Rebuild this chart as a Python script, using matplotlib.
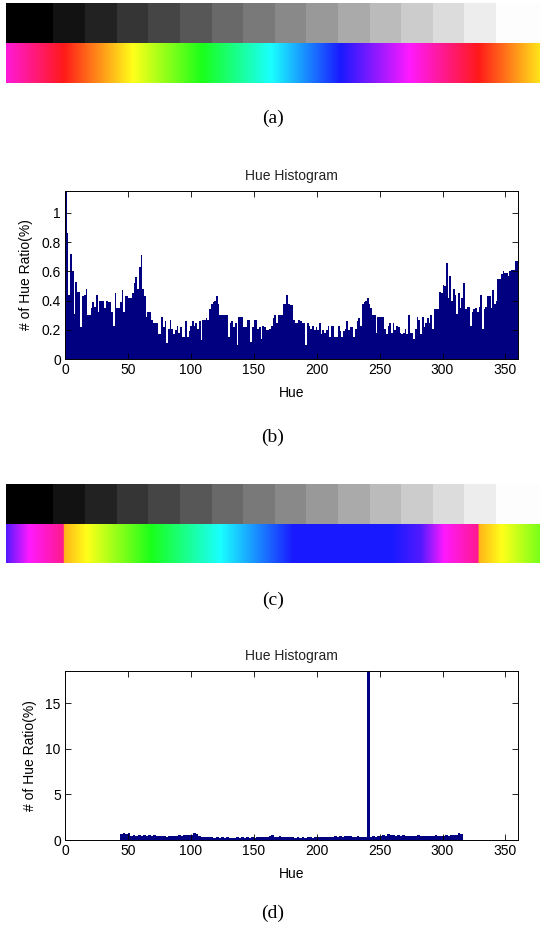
import numpy as np
import matplotlib
matplotlib.use("Agg")
import matplotlib.pyplot as plt
from matplotlib.colors import hsv_to_rgb

# ---------------- data ----------------
gray_levels = [0, 18, 34, 53, 69, 87, 105, 121, 137, 153, 170, 187, 204, 220, 237, 253]

# strip (a): hue runs continuously (degrees, wraps past 360)
strip_a_hue_start = 310
strip_a_hue_end = 773

# strip (c): hue remapping of the original hue (src -> dst)
remap_src = [0, 20, 76, 136, 199, 285, 310, 330, 360]
remap_dst = [40, 60, 120, 180, 240, 240, 255, 300, 330]

# histogram (b): hue ratio (%) over 0..360, equal bins
hist_b = [
    1.20, 0.86, 0.44, 0.72, 0.60, 0.31, 0.53, 0.46, 0.46, 0.22, 0.43, 0.44, 0.48, 0.30,
    0.30, 0.35, 0.39, 0.36, 0.44, 0.32, 0.40, 0.40, 0.40, 0.35, 0.40, 0.39, 0.39, 0.32,
    0.23, 0.45, 0.35, 0.35, 0.39, 0.47, 0.32, 0.43, 0.43, 0.42, 0.42,
    0.45, 0.52, 0.56, 0.48, 0.63, 0.71, 0.48, 0.43, 0.29, 0.32, 0.32, 0.27, 0.25, 0.25,
    0.25, 0.17, 0.17, 0.29, 0.22, 0.26, 0.11, 0.21, 0.27, 0.21, 0.17, 0.20, 0.23, 0.18,
    0.22, 0.15, 0.15, 0.26, 0.15, 0.19, 0.23, 0.26, 0.23, 0.25, 0.21, 0.26, 0.13, 0.27,
    0.27, 0.28, 0.27, 0.34, 0.38, 0.39, 0.40, 0.43, 0.38, 0.30,
    0.30, 0.30, 0.30, 0.30, 0.15, 0.25, 0.26, 0.22, 0.25, 0.10, 0.29, 0.29, 0.29, 0.22,
    0.22, 0.27, 0.27, 0.12, 0.22, 0.27, 0.27, 0.21, 0.22, 0.14, 0.23, 0.22, 0.20, 0.20,
    0.21, 0.23, 0.28, 0.30, 0.25, 0.30, 0.30, 0.30, 0.38, 0.38, 0.44, 0.38, 0.37, 0.37,
    0.27, 0.25, 0.25, 0.27, 0.26, 0.25, 0.25, 0.10, 0.25, 0.23, 0.21, 0.23, 0.20, 0.22,
    0.20, 0.25, 0.17, 0.20, 0.18, 0.20, 0.23, 0.15, 0.23, 0.23, 0.15, 0.15, 0.23, 0.19,
    0.15, 0.19, 0.21, 0.26, 0.20, 0.22, 0.22, 0.15, 0.21, 0.26, 0.28, 0.23,
    0.38, 0.39, 0.40, 0.42, 0.38, 0.35, 0.30, 0.30, 0.18, 0.29, 0.29, 0.29, 0.29, 0.21,
    0.17, 0.23, 0.25, 0.18, 0.25, 0.20, 0.23, 0.22, 0.18, 0.17, 0.18, 0.21, 0.17, 0.30,
    0.18, 0.18, 0.14, 0.21, 0.29, 0.27, 0.17, 0.29, 0.22, 0.25, 0.28, 0.25, 0.30, 0.21,
    0.34, 0.34, 0.34, 0.46, 0.45, 0.51, 0.50, 0.66, 0.42, 0.57, 0.40, 0.48, 0.44, 0.31,
    0.45, 0.35, 0.42, 0.52, 0.34, 0.36, 0.36, 0.23, 0.32, 0.34, 0.35, 0.32, 0.36, 0.44,
    0.21, 0.34, 0.36, 0.43, 0.43, 0.35, 0.47, 0.38, 0.40, 0.55, 0.55, 0.58, 0.60, 0.59,
    0.59, 0.57, 0.60, 0.61, 0.61, 0.67, 0.67,
]

# histogram (d): hue ratio (%) for hue 44..316 in 2-degree bins
hist_d_start = 44
hist_d_binwidth = 2
hist_d = [
    0.70, 0.80, 0.65, 0.78, 0.45, 0.55, 0.40, 0.52, 0.48, 0.55, 0.42, 0.50, 0.47, 0.52,
    0.45, 0.48, 0.40, 0.43, 0.38, 0.45, 0.40, 0.47, 0.42, 0.50, 0.45, 0.55, 0.52, 0.60,
    0.58, 0.78, 0.62, 0.42, 0.38, 0.30, 0.32, 0.28, 0.30, 0.22, 0.28, 0.25, 0.30, 0.22,
    0.28, 0.20, 0.25, 0.22, 0.30, 0.25, 0.35, 0.22, 0.28, 0.25, 0.38, 0.22, 0.30, 0.28,
    0.32, 0.35, 0.30, 0.40, 0.52, 0.38, 0.35, 0.42, 0.30, 0.35, 0.28, 0.38, 0.30, 0.26,
    0.32, 0.25, 0.30, 0.22, 0.28, 0.30, 0.25, 0.35, 0.28, 0.32, 0.30, 0.35, 0.28, 0.38,
    0.32, 0.40, 0.35, 0.42, 0.38, 0.45, 0.40, 0.42, 0.38, 0.35, 0.40, 0.32, 0.38, 0.30,
    24.0, 0.35, 0.40, 0.38, 0.45, 0.42, 0.50, 0.48, 0.62, 0.55, 0.52, 0.48, 0.55, 0.45,
    0.50, 0.42, 0.48, 0.40, 0.45, 0.42, 0.50, 0.40, 0.45, 0.42, 0.48, 0.40, 0.45, 0.50,
    0.42, 0.48, 0.45, 0.55, 0.48, 0.52, 0.58, 0.50, 0.75, 0.68,
]

x_ticks = [0, 50, 100, 150, 200, 250, 300, 350]
b_yticks = [0, 0.2, 0.4, 0.6, 0.8, 1.0]
b_yticklabels = ["0", "0.2", "0.4", "0.6", "0.8", "1"]
d_yticks = [0, 5, 10, 15]

title_text = "Hue Histogram"
xlabel_text = "Hue"
ylabel_text = "# of Hue Ratio(%)"
panel_labels = ["(a)", "(b)", "(c)", "(d)"]

# ---------------- layout ----------------
W, H = 540, 931
fig = plt.figure(figsize=(W / 100, H / 100), dpi=100)
bar_color = "#000080"
sans = ["Liberation Sans", "DejaVu Sans"]
serif = ["Liberation Serif", "DejaVu Serif"]
FS = 10


def px_axes(x0, y0, x1, y1):
    return fig.add_axes([x0 / W, 1 - y1 / H, (x1 - x0) / W, (y1 - y0) / H])


gray_widths = [1.5] + [1.0] * (len(gray_levels) - 2) + [1.39]


def draw_strips(y_top, y_bot, hue_row):
    ax = px_axes(6, y_top, 540, y_bot)
    total = sum(gray_widths)
    left = 0.0
    for g, w in zip(gray_levels, gray_widths):
        ax.add_patch(plt.Rectangle((left / total, 0.5), w / total, 0.5,
                                   facecolor=(g / 255, g / 255, g / 255),
                                   edgecolor="none"))
        left += w
    img = np.repeat(hue_row[np.newaxis, :, :], 2, axis=0)
    ax.imshow(img, extent=[0, 1, 0, 0.5], aspect="auto", interpolation="bilinear")
    ax.set_xlim(0, 1)
    ax.set_ylim(0, 1)
    ax.axis("off")


N = 1200
src = np.linspace(strip_a_hue_start, strip_a_hue_end, N)
hsv_a = np.stack([(src % 360) / 360, np.full(N, 0.9), np.ones(N)], axis=1)
row_a = hsv_to_rgb(hsv_a)
dst = np.interp(src % 360, remap_src, remap_dst)
hsv_c = np.stack([(dst % 360) / 360, np.full(N, 0.9), np.ones(N)], axis=1)
row_c = hsv_to_rgb(hsv_c)

draw_strips(3, 83, row_a)
draw_strips(484, 563, row_c)


def style_hist(ax, ylim, yticks, yticklabels):
    ax.set_xlim(0, 360)
    ax.set_ylim(*ylim)
    ax.set_xticks(x_ticks)
    ax.set_yticks(yticks)
    ax.set_yticklabels(yticklabels)
    ax.tick_params(direction="in", top=True, right=True, length=4, width=0.6,
                   labelsize=FS, pad=3)
    for lab in ax.get_xticklabels() + ax.get_yticklabels():
        lab.set_fontfamily(sans)
    for s in ax.spines.values():
        s.set_linewidth(0.7)
    ax.set_title(title_text, fontsize=FS, family=sans, pad=8, color="#222222")
    ax.set_xlabel(xlabel_text, fontsize=FS, family=sans, labelpad=6)
    ax.set_ylabel(ylabel_text, fontsize=FS, family=sans, labelpad=6)


axb = px_axes(65, 190.7, 518, 359.3)
wb = 360 / len(hist_b)
xb = np.arange(len(hist_b)) * wb
axb.bar(xb, hist_b, width=wb, align="edge", color=bar_color, linewidth=0)
style_hist(axb, (0, 1.15), b_yticks, b_yticklabels)

axd = px_axes(65, 670.7, 518, 840)
xd = hist_d_start + np.arange(len(hist_d)) * hist_d_binwidth
axd.bar(xd, hist_d, width=hist_d_binwidth, align="edge", color=bar_color, linewidth=0)
style_hist(axd, (0, 18.6), d_yticks, [str(t) for t in d_yticks])

label_y = [118, 437, 600, 913]
for lab, y in zip(panel_labels, label_y):
    fig.text(273 / W, 1 - y / H, lab, ha="center", va="center",
             fontsize=14, family=serif)

fig.savefig("out.png", dpi=100)
